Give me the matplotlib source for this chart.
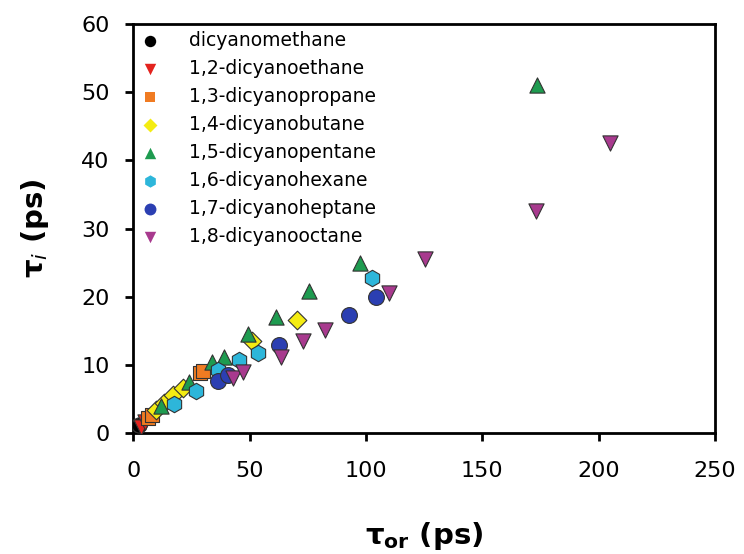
import matplotlib
matplotlib.use("Agg")
import matplotlib.pyplot as plt

plt.rcParams["font.family"] = ["DejaVu Sans"]
plt.rcParams["mathtext.fontset"] = "custom"
plt.rcParams["mathtext.rm"] = "DejaVu Sans"
plt.rcParams["mathtext.it"] = "DejaVu Sans:italic"
plt.rcParams["mathtext.bf"] = "DejaVu Sans:bold"

names = ["dicyanomethane", "1,2-dicyanoethane", "1,3-dicyanopropane",
         "1,4-dicyanobutane", "1,5-dicyanopentane", "1,6-dicyanohexane",
         "1,7-dicyanoheptane", "1,8-dicyanooctane"]

x_c1 = [2.5]
y_c1 = [1.2]
x_c2 = [3.4, 5.2]
y_c2 = [0.9, 1.6]
x_c3 = [6.5, 8.0, 28.5, 30.0]
y_c3 = [2.2, 2.7, 8.8, 9.1]
x_c4 = [9.9, 13.3, 17.0, 21.5, 51.0, 70.4]
y_c4 = [3.4, 4.5, 5.6, 6.7, 13.5, 16.6]
x_c5 = [12.0, 24.0, 34.0, 39.0, 49.4, 61.4, 75.5, 97.4, 173.4]
y_c5 = [4.0, 7.5, 10.4, 11.2, 14.5, 17.0, 20.8, 24.9, 51.0]
x_c6 = [17.6, 27.0, 36.5, 45.5, 53.5, 102.6]
y_c6 = [4.3, 6.2, 9.3, 10.7, 11.8, 22.7]
x_c7 = [36.5, 40.8, 62.7, 92.7, 104.3]
y_c7 = [7.7, 8.5, 13.0, 17.3, 20.0]
x_c8 = [43.0, 47.0, 63.5, 73.0, 82.4, 110.0, 125.3, 173.0, 204.7]
y_c8 = [8.1, 8.9, 11.1, 13.5, 15.2, 20.5, 25.5, 32.5, 42.5]

xs = [x_c1, x_c2, x_c3, x_c4, x_c5, x_c6, x_c7, x_c8]
ys = [y_c1, y_c2, y_c3, y_c4, y_c5, y_c6, y_c7, y_c8]
colors = ["#000000", "#E3231E", "#F07B22", "#F4EC12", "#1E9B50",
          "#2DB6DA", "#2B3FB2", "#A83A8E"]
markers = ["o", "v", "s", "D", "^", "h", "o", "v"]
sizes = [120, 120, 100, 90, 120, 140, 130, 120]

fig = plt.figure(figsize=(7.44, 5.54), dpi=100, facecolor="white")
ax = fig.add_axes([0.179, 0.218, 0.782, 0.739])

for i in range(len(names)):
    ax.scatter(xs[i], ys[i], s=sizes[i], marker=markers[i], c=colors[i],
               edgecolors="#333333", linewidths=0.8, label=names[i], zorder=3)

ax.set_xlim(0, 250)
ax.set_ylim(0, 60)
ax.set_xticks([0, 50, 100, 150, 200, 250])
ax.set_yticks([0, 10, 20, 30, 40, 50, 60])
ax.tick_params(direction="out", length=6, width=2, labelsize=16,
               top=False, right=False)
ax.tick_params(axis="x", pad=14)
ax.tick_params(axis="y", pad=11)
for s in ax.spines.values():
    s.set_linewidth(2)

ax.set_xlabel(r"$\mathbf{\tau}_{\mathbf{or}}$ (ps)", fontsize=21,
              fontweight="bold", labelpad=28)
ax.set_ylabel(r"$\mathbf{\tau}_{\mathit{i}}$ (ps)", fontsize=21,
              fontweight="bold", labelpad=22)

leg = ax.legend(loc="upper left", frameon=False, fontsize=13.5,
                handlelength=1.0, handletextpad=1.6, labelspacing=0.48,
                borderaxespad=0.0, borderpad=0.4,
                markerscale=0.75, scatterpoints=1)
for h in leg.legend_handles:
    h.set_linewidth(0)

fig.savefig("out.png", dpi=100, facecolor="white")
